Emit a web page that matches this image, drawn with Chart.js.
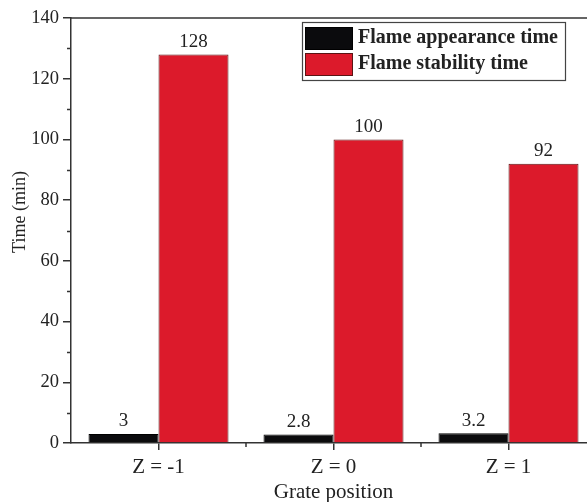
<!DOCTYPE html>
<html>
<head>
<meta charset="utf-8">
<script src="https://cdn.jsdelivr.net/npm/chart.js@4.4.1/dist/chart.umd.min.js"></script>
<style>
html,body{margin:0;padding:0;background:#fff;overflow:hidden}
#wrap{width:596px;height:502px}
</style>
</head>
<body>
<div id="wrap"><canvas id="graphique" width="596" height="502"></canvas></div>
<script>
const categories = ["Z = -1", "Z = 0", "Z = 1"]
const appearanceTime = [3, 2.8, 3.2]
const stabilityTime = [128, 100, 92]
const seriesNames = ["Flame appearance time", "Flame stability time"]
const yMin = 0, yMax = 140, yStep = 20

const serif = '"Liberation Serif", "Times New Roman", serif'
const ink = '#222'
const axisColor = '#333'

// minor ticks, top frame line, axis titles, value labels, boxed legend
const decorations = {
    id: 'decorations',
    afterDatasetsDraw(chart) {
        const ctx = chart.ctx
        const area = chart.chartArea
        const x = chart.scales.x, y = chart.scales.y
        ctx.save()
        ctx.strokeStyle = axisColor
        ctx.lineWidth = 1.5
        ctx.beginPath()
        ctx.moveTo(area.left, area.top)
        ctx.lineTo(area.right, area.top)
        for (let v = yMin + yStep / 2; v < yMax; v += yStep) {
            const py = Math.round(y.getPixelForValue(v)) + 0.5
            ctx.moveTo(area.left, py)
            ctx.lineTo(area.left - 4, py)
        }
        for (let i = 0; i < categories.length - 1; i++) {
            const px = (x.getPixelForValue(i) + x.getPixelForValue(i + 1)) / 2
            ctx.moveTo(px, area.bottom)
            ctx.lineTo(px, area.bottom + 4)
        }
        ctx.stroke()

        ctx.fillStyle = ink
        ctx.textAlign = 'center'
        ctx.textBaseline = 'middle'
        ctx.font = '21px ' + serif
        ctx.fillText('Grate position', (x.getPixelForValue(1)), 492)
        ctx.save()
        ctx.translate(20, 212)
        ctx.rotate(-Math.PI / 2)
        ctx.font = '18px ' + serif
        ctx.fillText('Time (min)', 0, 0)
        ctx.restore()

        ctx.font = '19px ' + serif
        ctx.textBaseline = 'bottom'
        chart.data.datasets.forEach((ds, di) => {
            chart.getDatasetMeta(di).data.forEach((bar, i) => {
                ctx.fillText(String(ds.data[i]), bar.x, bar.y - 3)
            })
        })

        // legend box
        const lx = 302, ly = 22, lw = 263, lh = 58
        ctx.strokeStyle = '#444'
        ctx.lineWidth = 1.2
        ctx.strokeRect(lx + 0.5, ly + 0.5, lw, lh)
        ctx.font = 'bold 20px ' + serif
        ctx.textAlign = 'left'
        ctx.textBaseline = 'middle'
        chart.data.datasets.forEach((ds, di) => {
            const sy = ly + 5 + di * 26
            ctx.fillStyle = ds.backgroundColor
            ctx.fillRect(lx + 3, sy, 48, 23)
            ctx.strokeStyle = ds.borderColor
            ctx.lineWidth = 1
            ctx.strokeRect(lx + 3.5, sy + 0.5, 47, 22)
            ctx.fillStyle = ink
            ctx.fillText(ds.label, lx + 56, sy + 11)
        })
        ctx.restore()
    }
}

const cvs = document.getElementById('graphique')
new Chart(cvs, {
    type: 'bar',
    data: {
        labels: categories,
        datasets: [{
            label: seriesNames[0],
            data: appearanceTime,
            backgroundColor: '#0b0b0d',
            borderColor: '#000000',
            borderWidth: 1
        }, {
            label: seriesNames[1],
            data: stabilityTime,
            backgroundColor: '#dc1a2b',
            borderColor: '#5a1414',
            borderWidth: 1
        }]
    },
    options: {
        responsive: false,
        animation: false,
        devicePixelRatio: 1,
        layout: { padding: { top: 18, left: 0, right: 0, bottom: 0 } },
        datasets: { bar: { categoryPercentage: 0.8, barPercentage: 1.0 } },
        plugins: { legend: { display: false }, tooltip: { enabled: false } },
        scales: {
            x: {
                offset: true,
                grid: { display: true, drawOnChartArea: false, offset: false, tickLength: 7, color: axisColor, lineWidth: 1.5 },
                border: { color: axisColor, width: 1.5 },
                ticks: { color: ink, font: { family: serif, size: 21 }, padding: 5 },
                afterFit(scale) { scale.height = 59 }
            },
            y: {
                min: yMin,
                max: yMax,
                grid: { display: true, drawOnChartArea: false, tickLength: 8, color: axisColor, lineWidth: 1.5 },
                border: { color: axisColor, width: 1.5 },
                ticks: { stepSize: yStep, color: ink, font: { family: serif, size: 18.5 }, padding: 4 },
                afterFit(scale) { scale.width = 71 }
            }
        }
    },
    plugins: [decorations]
})
</script>
</body>
</html>
